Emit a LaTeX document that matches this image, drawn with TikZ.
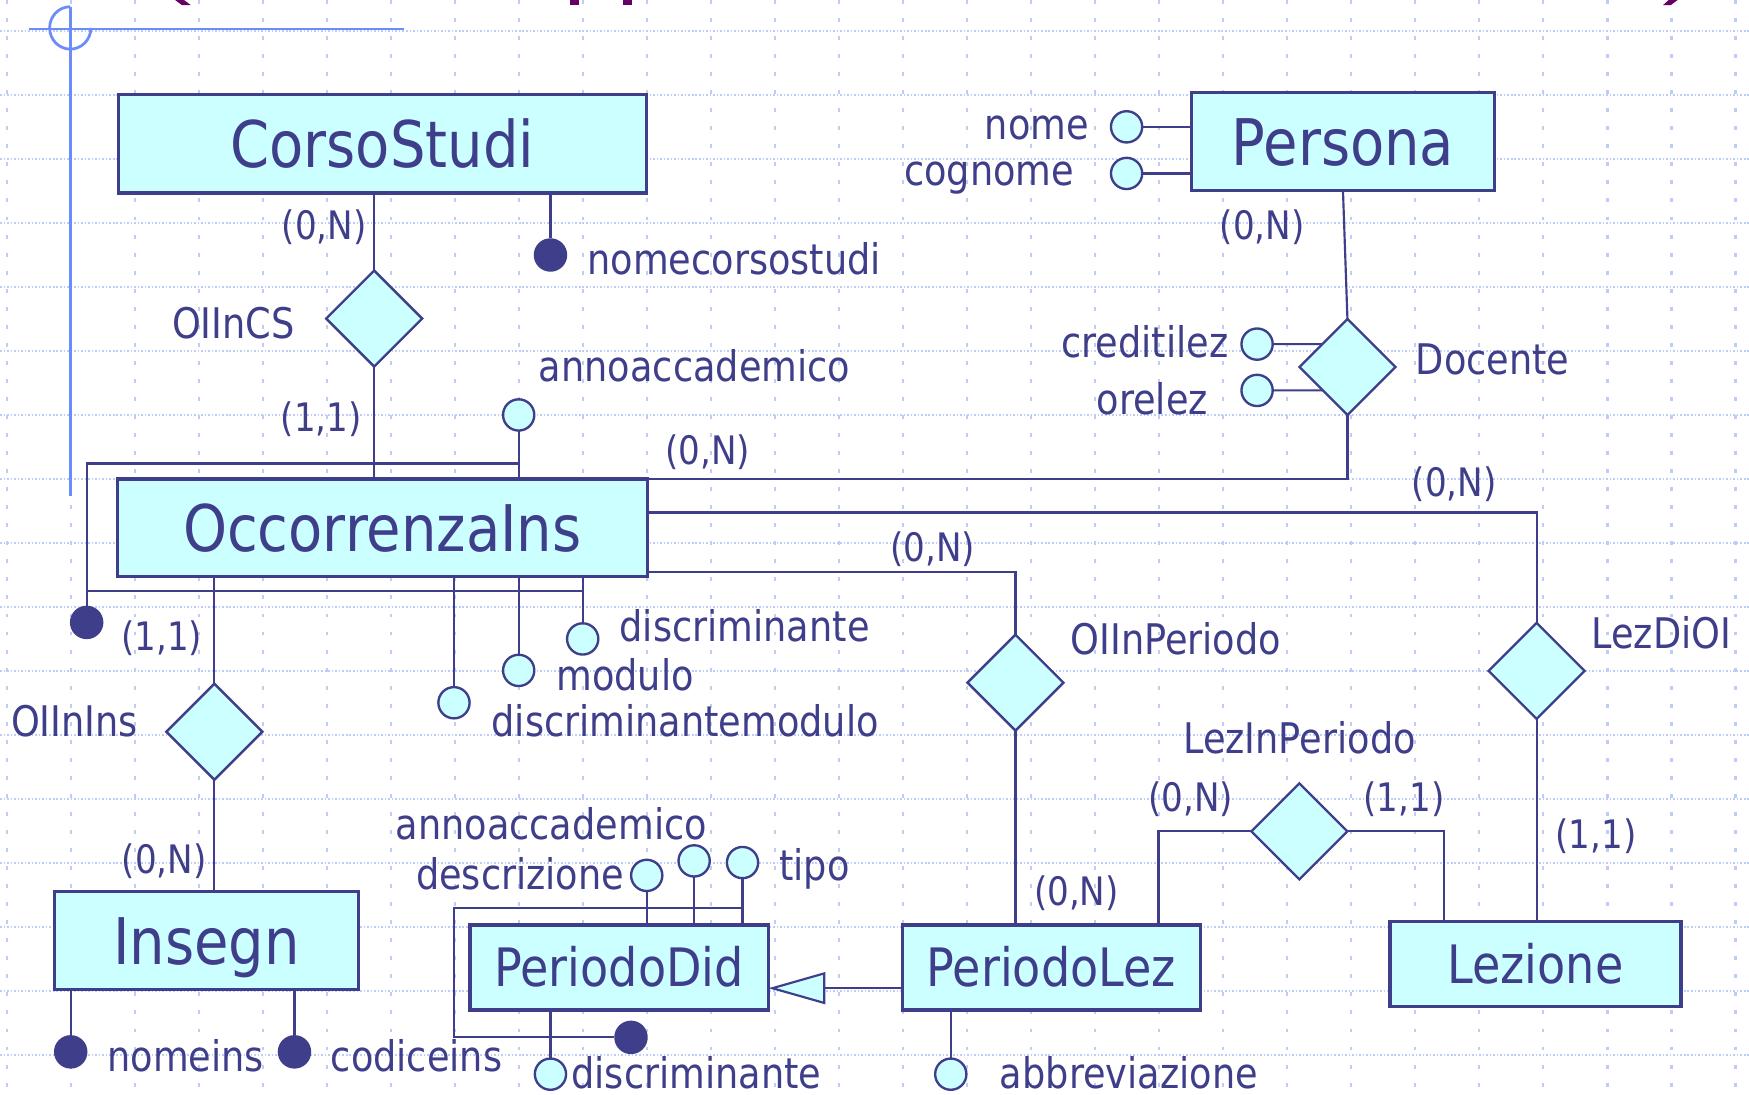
\documentclass[tikz,border=0pt]{standalone}
\usepackage{fontspec}
\setmainfont{DejaVu Sans}[FakeStretch=0.87]
\usetikzlibrary{shapes.geometric,arrows.meta,backgrounds,calc}
\definecolor{erblue}{RGB}{62,62,138}
\definecolor{ercyan}{RGB}{204,255,255}
\definecolor{guideblue}{RGB}{108,140,250}
\definecolor{gridblue}{RGB}{190,205,248}
\definecolor{titlepurple}{RGB}{102,0,102}
\newcommand{\entfont}{\fontsize{16.4}{18}\selectfont}
\newcommand{\entsmallfont}{\fontsize{13.5}{15}\selectfont}
\newcommand{\lblfont}{\fontsize{10.75}{12}\selectfont}
\newcommand{\cardfont}{\fontsize{10}{12}\selectfont}
\tikzset{
  entity/.style={rectangle, draw=erblue, line width=0.8pt, fill=ercyan, text=erblue,
    inner sep=0pt, outer sep=0pt, text height=12pt, text depth=0pt, font=\entfont},
  smallentity/.style={entity, text height=9.85pt, font=\entsmallfont},
  relation/.style={diamond, draw=erblue, line width=0.6pt, fill=ercyan,
    minimum width=0.86cm, minimum height=0.86cm, inner sep=0pt, outer sep=0pt},
  attr/.style={circle, draw=erblue, line width=0.6pt, fill=ercyan,
    minimum size=0.28cm, inner sep=0pt, outer sep=0pt},
  keyattr/.style={circle, fill=erblue, minimum size=0.30cm, inner sep=0pt, outer sep=0pt},
  lbl/.style={text=erblue, inner sep=0pt, font=\lblfont},
  card/.style={text=erblue, inner sep=0pt, font=\cardfont},
  link/.style={draw=erblue, line width=0.55pt},
  isa/.style={link, -{Triangle[fill=ercyan, length=0.51cm, width=0.285cm]}},
  gridh/.style={gridblue, line width=0.5pt, dash pattern=on 0.4pt off 0.5pt},
  gridv/.style={gridblue, line width=0.6pt, dash pattern=on 1pt off 3.6pt},
  guide/.style={guideblue, line width=0.7pt}
}
\begin{document}
\begin{tikzpicture}[x=0.01cm, y=-0.01cm]
\useasboundingbox (0,0) rectangle (1568,981);

\node[entity, minimum width=4.735cm, minimum height=0.88cm] (CorsoStudi) at (342.75,129) {CorsoStudi};
\node[entity, minimum width=2.72cm, minimum height=0.88cm] (Persona) at (1204,127) {Persona};
\node[entity, minimum width=4.745cm, minimum height=0.875cm] (OccorrenzaIns) at (342.75,473.25) {OccorrenzaIns};
\node[entity, minimum width=2.726cm, minimum height=0.876cm] (Insegn) at (185,843.2) {Insegn};
\node[smallentity, minimum width=2.674cm, minimum height=0.762cm] (PeriodoDid) at (555.1,867.4) {PeriodoDid};
\node[smallentity, minimum width=2.673cm, minimum height=0.762cm] (PeriodoLez) at (942.5,867.4) {PeriodoLez};
\node[smallentity, minimum width=2.608cm, minimum height=0.762cm] (Lezione) at (1376.6,864.4) {Lezione};

\node[relation] (OIInCS) at (335.5,285.6) {};
\node[relation] (Docente) at (1208,329) {};
\node[relation] (OIInIns) at (192.2,656) {};
\node[relation] (OIInPeriodo) at (910.4,612) {};
\node[relation] (LezDiOI) at (1377.6,601.4) {};
\node[relation] (LezInPeriodo) at (1164.9,745.3) {};

\node[lbl, anchor=base west] (lOIInCS) at (153.5,303.3) {OIInCS};
\node[lbl, anchor=base west] (lDocente) at (1268.6,335.6) {Docente};
\node[lbl, anchor=base west] (lOIInIns) at (9.2,660.5) {OIInIns};
\node[lbl, anchor=base west] (lOIInPeriodo) at (959,587.2) {OIInPeriodo};
\node[lbl, anchor=base west] (lLezDiOI) at (1426.2,581.3) {LezDiOI};
\node[lbl, anchor=base] (lLezInPeriodo) at (1165,675.4) {LezInPeriodo};

\node[keyattr] (kNomeCorso) at (493.5,228.6) {};
\node[attr] (aNome) at (1010,113.7) {};
\node[attr] (aCognome) at (1010,155.5) {};
\node[attr] (aCreditiLez) at (1127,308.5) {};
\node[attr] (aOreLez) at (1127,350) {};
\node[attr] (aAnnoOI) at (465,372) {};
\node[keyattr] (kOI) at (77.7,558) {};
\node[attr] (aDiscrOI) at (522.4,572.8) {};
\node[attr] (aModulo) at (465,601) {};
\node[attr] (aDiscrModulo) at (407,630) {};
\node[keyattr] (kNomeIns) at (63.4,943) {};
\node[keyattr] (kCodiceIns) at (264,943) {};
\node[attr] (aDescrizione) at (579.8,784.8) {};
\node[attr] (aAnnoPD) at (622.3,771.8) {};
\node[attr] (aTipo) at (665.7,773.3) {};
\node[keyattr] (kPD) at (565.7,930) {};
\node[attr] (aDiscrPD) at (493.5,963) {};
\node[attr] (aAbbrev) at (852.4,963) {};

\node[lbl, anchor=base west] (lNomeCorso) at (526,245.7) {nomecorsostudi};
\node[lbl, anchor=base east] (lNome) at (977,124.9) {nome};
\node[lbl, anchor=base east] (lCognome) at (963.6,165.9) {cognome};
\node[lbl, anchor=base east] (lCreditiLez) at (1102,320.4) {creditilez};
\node[lbl, anchor=base east] (lOreLez) at (1083.6,372) {orelez};
\node[lbl, anchor=base west] (lAnnoOI) at (482.5,342.2) {annoaccademico};
\node[lbl, anchor=base west] (lDiscrOI) at (554.8,575.3) {discriminante};
\node[lbl, anchor=base west] (lModulo) at (498.2,618.6) {modulo};
\node[lbl, anchor=base west] (lDiscrModulo) at (440,660.5) {discriminantemodulo};
\node[lbl, anchor=base west] (lNomeIns) at (95.6,960.8) {nomeins};
\node[lbl, anchor=base west] (lCodiceIns) at (295.9,960.8) {codiceins};
\node[lbl, anchor=base west] (lAnnoPD) at (354,752.5) {annoaccademico};
\node[lbl, anchor=base east] (lDescrizione) at (560.3,797.3) {descrizione};
\node[lbl, anchor=base west] (lTipo) at (697.8,789) {tipo};
\node[lbl, anchor=base west] (lDiscrPD) at (511.6,976) {discriminante};
\node[lbl, anchor=base west] (lAbbrev) at (895.8,976) {abbreviazione};

\node[card] (cCSa) at (290.6,203.7) {(0,N)};
\node[card] (cCSb) at (288,375.7) {(1,1)};
\node[card] (cDocA) at (1131.7,203.6) {(0,N)};
\node[card] (cDocB) at (634.4,405.4) {(0,N)};
\node[card] (cLezOIa) at (1303.6,434) {(0,N)};
\node[card] (cPerA) at (836,492.3) {(0,N)};
\node[card] (cInsA) at (145,572.3) {(1,1)};
\node[card] (cInsB) at (147.2,772) {(0,N)};
\node[card] (cPerB) at (965,800.9) {(0,N)};
\node[card] (cLezPa) at (1067.4,716.5) {(0,N)};
\node[card] (cLezPb) at (1258.7,716.5) {(1,1)};
\node[card] (cLezOIb) at (1430.9,749.3) {(1,1)};

\coordinate (oiTop) at ([yshift=0.14cm]OccorrenzaIns.north);
\coordinate (oiBot) at ([yshift=-0.126cm]OccorrenzaIns.south);
\coordinate (pdTop) at ([yshift=0.15cm]PeriodoDid.north);
\coordinate (pdLeft) at ([xshift=-0.141cm]PeriodoDid.west);

\begin{scope}[on background layer]
\fill[white] (0,0) rectangle (1568,981);
\foreach \gy in {0,...,16}
  \draw[gridh] (0,{27.5+57.4*\gy}) -- (1568,{27.5+57.4*\gy});
\foreach \gx in {0,...,27}
  \draw[gridv] ({6+57.4*\gx},0) -- ({6+57.4*\gx},981);
\draw[guide] (63,6) -- (63,445);
\draw[guide] (26,26) -- (362,26);
\draw[guide] (63,6) arc[start angle=90, end angle=360, x radius=0.185cm, y radius=0.19cm];
\fill[titlepurple] (157,0) -- (165,0) -- (171,4.5) -- (163,4.5) -- cycle;
\fill[titlepurple] (511,0) rectangle (519,4.5);
\fill[titlepurple] (558.5,0) rectangle (566.6,4.5);
\fill[titlepurple] (1496,0) -- (1504,0) -- (1498,4.5) -- (1491,4.5) -- cycle;

\draw[link] (OIInCS.north) -- (OIInCS.north |- CorsoStudi.south);
\draw[link] (OIInCS.south) -- (OIInCS.south |- OccorrenzaIns.north);
\draw[link] (Persona.south) -- (Docente.north);
\draw[link] (Docente.south) |- (OccorrenzaIns.north east);
\draw[link] ([yshift=-0.30cm]OccorrenzaIns.north east) -| (LezDiOI.north);
\draw[link] ([yshift=-0.83cm]OccorrenzaIns.north east) -| (OIInPeriodo.north);
\draw[link] (OIInPeriodo.south) -- (OIInPeriodo.south |- PeriodoLez.north);
\draw[link] (LezDiOI.south) -- (LezDiOI.south |- Lezione.north);
\draw[link] (LezInPeriodo.west) -| ([xshift=0.96cm]PeriodoLez.north);
\draw[link] (LezInPeriodo.east) -| ([xshift=-0.82cm]Lezione.north);
\draw[link] (OIInIns.north) -- (OIInIns.north |- OccorrenzaIns.south);
\draw[link] (OIInIns.south) -- (OIInIns.south |- Insegn.north);
\draw[isa] ([yshift=-0.185cm]PeriodoLez.west) -- ([yshift=-0.185cm]PeriodoDid.east);

\draw[link] (kNomeCorso) -- (kNomeCorso |- CorsoStudi.south);
\draw[link] (aNome) -- (aNome -| Persona.west);
\draw[link] (aCognome) -- (aCognome -| Persona.west);
\draw[link] (aCreditiLez) -- ($(Docente.west)!0.477!(Docente.north)$);
\draw[link] (aOreLez) -- ($(Docente.west)!0.488!(Docente.south)$);
\draw[link] (aAnnoOI) -- (aAnnoOI |- OccorrenzaIns.north);
\draw[link] (kOI) |- (aAnnoOI |- oiTop);
\draw[link] (kOI |- oiBot) -- (aDiscrOI |- oiBot);
\draw[link] (aDiscrOI) -- (aDiscrOI |- OccorrenzaIns.south);
\draw[link] (aModulo) -- (aModulo |- OccorrenzaIns.south);
\draw[link] (aDiscrModulo) -- (aDiscrModulo |- OccorrenzaIns.south);
\draw[link] (kNomeIns) -- (kNomeIns |- Insegn.south);
\draw[link] (kCodiceIns) -- (kCodiceIns |- Insegn.south);
\draw[link] (aDescrizione) -- (aDescrizione |- PeriodoDid.north);
\draw[link] (aAnnoPD) -- (aAnnoPD |- PeriodoDid.north);
\draw[link] (aTipo) -- (aTipo |- PeriodoDid.north);
\draw[link] (aTipo |- pdTop) -| (pdLeft |- kPD) -- (kPD);
\draw[link] (aDiscrPD) -- (aDiscrPD |- PeriodoDid.south);
\draw[link] (aAbbrev) -- (aAbbrev |- PeriodoLez.south);
\end{scope}
\end{tikzpicture}
\end{document}
